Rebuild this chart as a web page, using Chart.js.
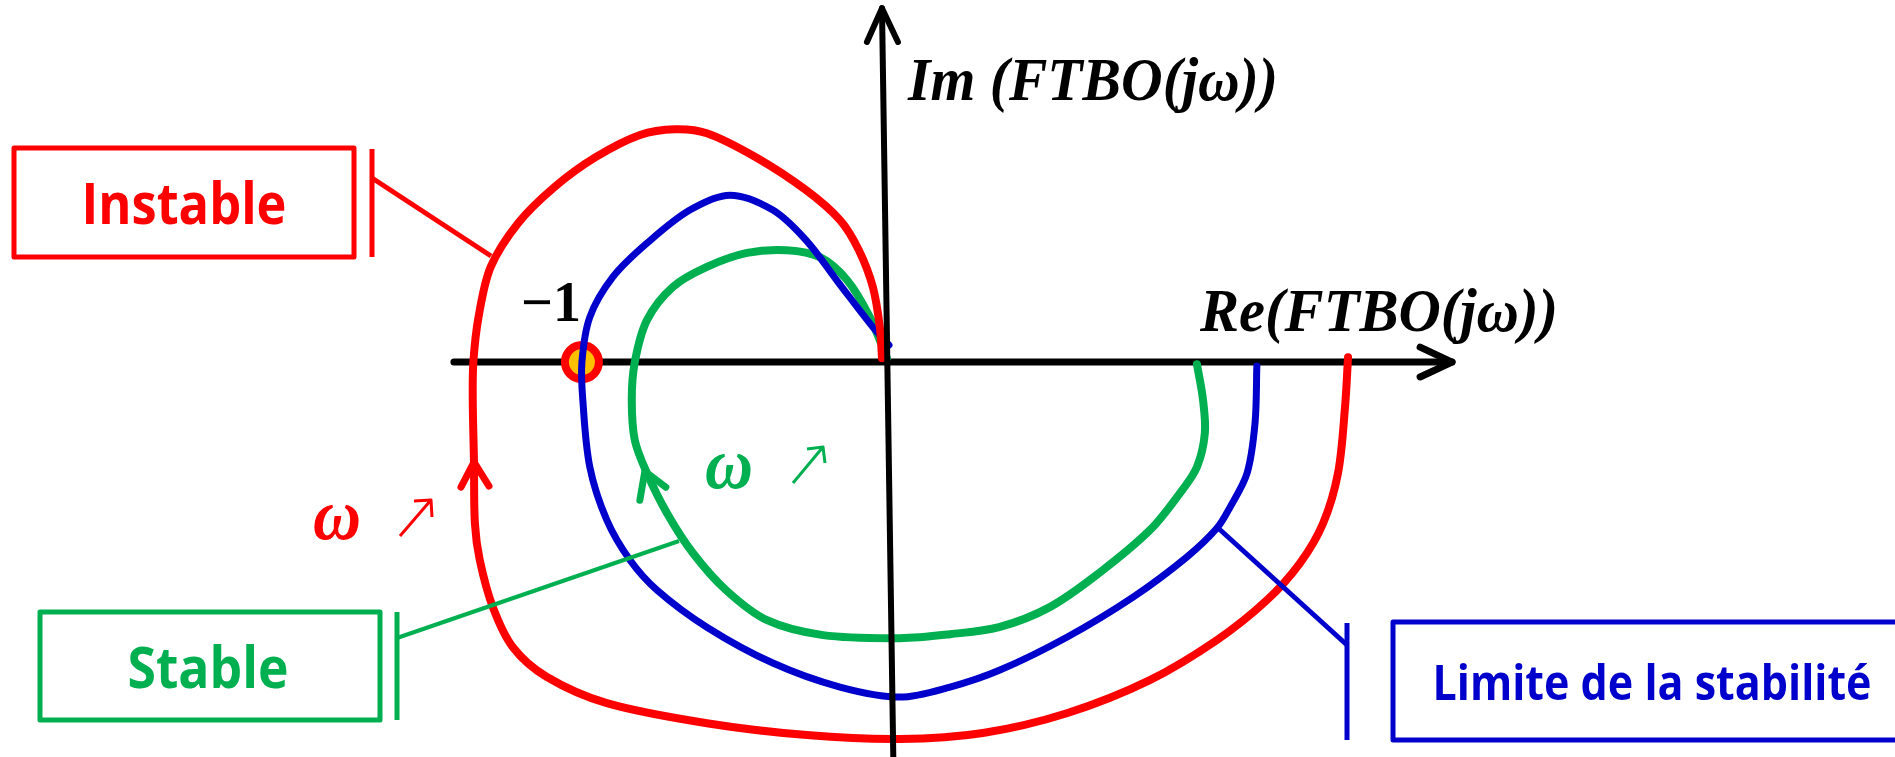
<!DOCTYPE html>
<html>
<head>
<meta charset="utf-8">
<script src="https://cdn.jsdelivr.net/npm/chart.js"></script>
<style>
    html, body { margin: 0; padding: 0; background: #fff; }
    #wrap { width: 1895px; height: 757px; position: relative; }
</style>
</head>
<body>
<div id="wrap"><canvas id="nyquistChart"></canvas></div>
<script>
// Nyquist plot, one unit = distance from origin to the critical point -1
const instableRe = [1.520, 1.510, 1.487, 1.438, 1.362, 1.253, 1.089, 0.868, 0.595, 0.319,
    0.046, -0.260, -0.589, -0.918, -1.115, -1.227, -1.293, -1.336, -1.352, -1.355,
    -1.359, -1.357, -1.340, -1.300, -1.210, -1.090, -0.955, -0.809, -0.694, -0.589,
    -0.428, -0.263, -0.151, -0.089, -0.043, -0.020, -0.013];
const instableIm = [0.016, -0.148, -0.365, -0.530, -0.661, -0.783, -0.914, -1.046, -1.155, -1.220,
    -1.240, -1.227, -1.188, -1.122, -1.036, -0.938, -0.806, -0.651, -0.530, -0.329,
    -0.125, 0, 0.148, 0.313, 0.457, 0.576, 0.674, 0.747, 0.766, 0.753,
    0.674, 0.566, 0.467, 0.368, 0.247, 0.115, 0.013];

const limiteRe = [1.220, 1.214, 1.188, 1.132, 1.089, 0.990, 0.813, 0.595, 0.375, 0.211,
    0.046, -0.151, -0.372, -0.589, -0.753, -0.842, -0.918, -0.974, -0.997, -1.000,
    -0.974, -0.898, -0.786, -0.645, -0.513, -0.372, -0.263, -0.155, -0.043, 0.010];
const limiteIm = [-0.013, -0.201, -0.365, -0.477, -0.546, -0.641, -0.773, -0.905, -1.013, -1.069,
    -1.102, -1.069, -0.990, -0.872, -0.750, -0.651, -0.520, -0.345, -0.125, 0,
    0.148, 0.280, 0.391, 0.500, 0.549, 0.500, 0.401, 0.260, 0.115, 0.056];

const stableRe = [1.023, 1.043, 1.049, 1.023, 0.967, 0.868, 0.701, 0.539, 0.372, 0.211,
    0.046, -0.207, -0.391, -0.526, -0.635, -0.720, -0.786, -0.826, -0.836, -0.826,
    -0.786, -0.701, -0.589, -0.457, -0.326, -0.217, -0.128, -0.053, 0.003];
const stableIm = [-0.007, -0.125, -0.234, -0.345, -0.431, -0.553, -0.694, -0.806, -0.872, -0.895,
    -0.908, -0.898, -0.849, -0.750, -0.628, -0.497, -0.365, -0.257, -0.125, 0,
    0.138, 0.247, 0.313, 0.359, 0.368, 0.345, 0.270, 0.148, 0.013];

const criticalRe = [-1];
const criticalIm = [0];

// axes (drawn as lines, slightly tilted imaginary axis like the original sketch)
const reAxisX = [-1.421, 1.862];
const reAxisY = [0, 0];
const reArrowX = [1.757, 1.862, 1.757];
const reArrowY = [0.049, 0, -0.049];
const imAxisX = [0.025, -0.013];
const imAxisY = [-1.35, 1.164];
const imArrowX = [-0.0625, -0.013, 0.0395];
const imArrowY = [1.053, 1.164, 1.053];

// direction arrows on curves (tip on the curve)
const redArrowTip = { x: -1.355, y: -0.329 };
const greenArrowTip = { x: -0.793, y: -0.359 };

const RED = '#FF0000';
const BLUE = '#0000CC';
const GREEN = '#00B050';

function zip(xs, ys) {
    return xs.map((x, i) => ({ x: x, y: ys[i] }));
}

function lineSet(xs, ys, color, width, order, tension) {
    return {
        data: zip(xs, ys),
        showLine: true,
        borderColor: color,
        backgroundColor: color,
        borderWidth: width,
        pointRadius: 0,
        tension: tension,
        borderCapStyle: 'round',
        borderJoinStyle: 'round',
        order: order
    };
}

const annotationPlugin = {
    id: 'nyquistAnnotations',
    afterDatasetsDraw(chart) {
        const ctx = chart.ctx;
        const xs = chart.scales.x;
        const ys = chart.scales.y;
        ctx.save();

        // arrowheads on curves
        const chevron = (tip, arms, color) => {
            const tx = xs.getPixelForValue(tip.x);
            const ty = ys.getPixelForValue(tip.y);
            ctx.strokeStyle = color;
            ctx.lineWidth = 7;
            ctx.lineCap = 'round';
            ctx.lineJoin = 'round';
            ctx.beginPath();
            ctx.moveTo(tx + arms[0][0], ty + arms[0][1]);
            ctx.lineTo(tx, ty);
            ctx.lineTo(tx + arms[1][0], ty + arms[1][1]);
            ctx.stroke();
        };
        chevron(redArrowTip, [[-13, 25], [15, 24]], RED);
        chevron(greenArrowTip, [[-5, 29], [21, 16]], GREEN);

        // callouts
        const callouts = [
            { text: 'Instable', color: RED, box: [14, 148, 340, 109], bar: [372, 149, 257],
              leader: [372, 178, 491, 256], lw: 5, cx: 184, base: 224, size: 57, maxW: 205 },
            { text: 'Stable', color: GREEN, box: [40, 612, 340, 108], bar: [397, 612, 720],
              leader: [397, 638, 679, 541], lw: 4, cx: 208, base: 688, size: 57, maxW: 161 },
            { text: 'Limite de la stabilité', color: BLUE, box: [1393, 622, 530, 118], bar: [1347, 623, 740],
              leader: [1347, 645, 1217, 527], lw: 5, cx: 1652, base: 700, size: 49, maxW: 439 }
        ];
        callouts.forEach(c => {
            ctx.strokeStyle = c.color;
            ctx.fillStyle = c.color;
            ctx.lineWidth = 5;
            ctx.lineJoin = 'round';
            ctx.strokeRect(c.box[0], c.box[1], c.box[2], c.box[3]);
            ctx.lineCap = 'butt';
            ctx.beginPath();
            ctx.moveTo(c.bar[0], c.bar[1]);
            ctx.lineTo(c.bar[0], c.bar[2]);
            ctx.stroke();
            ctx.lineWidth = c.lw;
            ctx.beginPath();
            ctx.moveTo(c.leader[0], c.leader[1]);
            ctx.lineTo(c.leader[2], c.leader[3]);
            ctx.stroke();
            ctx.font = 'bold ' + c.size + 'px "Open Sans"';
            ctx.textAlign = 'center';
            ctx.textBaseline = 'alphabetic';
            ctx.fillText(c.text, c.cx, c.base, c.maxW);
        });

        // math labels
        ctx.fillStyle = '#000';
        ctx.textAlign = 'left';
        ctx.font = 'bold italic 62px "Liberation Serif"';
        ctx.fillText('Im (FTBO(jω))', 908, 100, 370);
        ctx.fillText('Re(FTBO(jω))', 1200, 331, 358);
        ctx.textAlign = 'center';
        ctx.font = 'bold 56px "Liberation Serif"';
        ctx.fillText('\u22121', 551, 321);

        // omega increasing labels
        const omega = (x, base, color, a) => {
            ctx.fillStyle = color;
            ctx.textAlign = 'left';
            ctx.font = 'bold italic 74px "Liberation Serif"';
            ctx.fillText('ω', x, base, 48);
            ctx.strokeStyle = color;
            ctx.lineWidth = 3;
            ctx.lineCap = 'butt';
            ctx.beginPath();
            ctx.moveTo(a[0], a[1]);
            ctx.lineTo(a[2], a[3]);
            ctx.moveTo(a[4], a[5]);
            ctx.lineTo(a[2], a[3]);
            ctx.lineTo(a[6], a[7]);
            ctx.stroke();
        };
        omega(313, 539, RED, [400, 536, 431, 500, 414, 501, 432, 517]);
        omega(705, 488, GREEN, [793, 483, 823, 447, 807, 449, 825, 463]);

        ctx.restore();
    }
};

const ctx = document.getElementById('nyquistChart').getContext('2d');
new Chart(ctx, {
    type: 'scatter',
    data: {
        datasets: [
            lineSet(imAxisX, imAxisY, '#000', 6, 0, 0),
            lineSet(imArrowX, imArrowY, '#000', 6, 0, 0),
            lineSet(instableRe, instableIm, RED, 8, 1, 0.33),
            lineSet(limiteRe, limiteIm, BLUE, 7, 2, 0.33),
            lineSet(stableRe, stableIm, GREEN, 8, 3, 0.33),
            {
                data: zip(criticalRe, criticalIm),
                pointRadius: 17,
                pointBorderWidth: 8,
                pointBackgroundColor: '#FFC000',
                pointBorderColor: RED,
                order: 7
            },
            lineSet(reAxisX, reAxisY, '#000', 7, 8, 0),
            lineSet(reArrowX, reArrowY, '#000', 7, 8, 0)
        ]
    },
    options: {
        responsive: true,
        maintainAspectRatio: false,
        animation: false,
        layout: { padding: 0, autoPadding: false },
        plugins: {
            legend: { display: false },
            tooltip: { enabled: false }
        },
        scales: {
            x: { type: 'linear', min: -2.914, max: 3.319, display: false },
            y: { type: 'linear', min: -1.299, max: 1.191, display: false }
        }
    },
    plugins: [annotationPlugin]
});
</script>
</body>
</html>
